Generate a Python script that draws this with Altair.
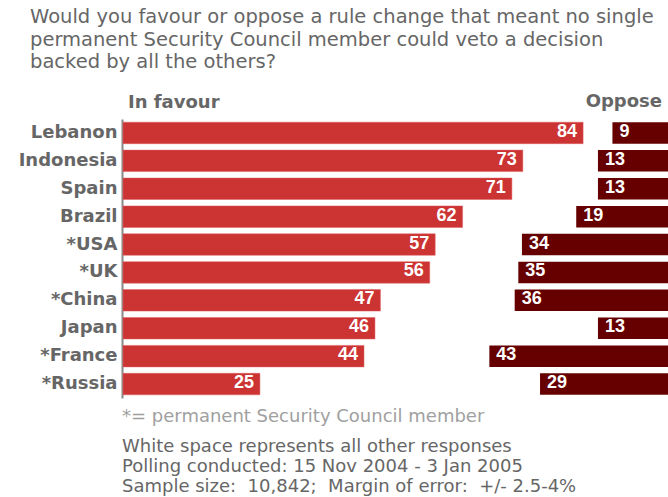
import altair as alt
import pandas as pd

countries = ["Lebanon", "Indonesia", "Spain", "Brazil", "*USA", "*UK", "*China", "Japan", "*France", "*Russia"]
favour = [84, 73, 71, 62, 57, 56, 47, 46, 44, 25]
oppose = [9, 13, 13, 19, 34, 35, 36, 13, 43, 29]

title_lines = [
    "Would you favour or oppose a rule change that meant no single",
    "permanent Security Council member could veto a decision",
    "backed by all the others?",
]
note_star = "*= permanent Security Council member"
note_lines = [
    "White space represents all other responses",
    "Polling conducted: 15 Nov 2004 - 3 Jan 2005",
    "Sample size: \u00a010,842; \u00a0Margin of error: \u00a0+/- 2.5-4%",
]

df = pd.DataFrame({"country": countries, "favour": favour, "oppose": oppose})

W, H = 545, 279
RED = "#cc3333"
DARK = "#660000"
GREY = "#666666"
FONT = "DejaVu Sans"
NUMFONT = "Liberation Sans"

# oppose bars are drawn on their own (reversed) scale, anchored at the right edge
OPP_DOMAIN = [-6.35, 144.2]

y_enc = alt.Y(
    "country:N",
    sort=countries,
    scale=alt.Scale(paddingInner=0.23, paddingOuter=0.115),
    axis=alt.Axis(
        title=None, ticks=False, labelFont=FONT, labelFontWeight="bold",
        labelFontSize=18, labelColor=GREY, labelPadding=5,
        domainColor="#888888", domainWidth=2, offset=1,
    ),
)

base = alt.Chart(df)

xf = alt.X("favour:Q", scale=alt.Scale(domain=[0, 99.5], nice=False, zero=True), axis=None)
fav_bars = base.mark_bar(color=RED, stroke="#e06060", strokeWidth=0.5).encode(x=xf, y=y_enc)
fav_text = base.mark_text(
    align="right", baseline="middle", dx=-6, dy=-1, color="white",
    font=NUMFONT, fontWeight="bold", fontSize=18,
).encode(x=xf, y=y_enc, text="favour:Q")
fav_layer = alt.layer(fav_bars, fav_text)

xo = alt.X("oppose:Q", scale=alt.Scale(domain=OPP_DOMAIN, reverse=True, nice=False, zero=False), axis=None)
opp_bars = base.mark_bar(color=DARK).encode(x=xo, x2=alt.datum(OPP_DOMAIN[0]), y=y_enc)
opp_text = base.mark_text(
    align="left", baseline="middle", dx=7, dy=-1, color="white",
    font=NUMFONT, fontWeight="bold", fontSize=18,
).encode(x=xo, y=y_enc, text="oppose:Q")
opp_layer = alt.layer(opp_bars, opp_text)

one = pd.DataFrame({"a": [0]})
title_txt = alt.Chart(one).mark_text(
    text=title_lines, align="left", baseline="alphabetic", font=FONT,
    fontSize=19.5, lineHeight=22.5, color=GREY,
).encode(x=alt.value(-93), y=alt.value(-96))
head_fav = alt.Chart(one).mark_text(
    text="In favour", align="left", baseline="alphabetic", font=FONT,
    fontWeight="bold", fontSize=18, color=GREY,
).encode(x=alt.value(5), y=alt.value(-11))
head_opp = alt.Chart(one).mark_text(
    text="Oppose", align="right", baseline="alphabetic", font=FONT,
    fontWeight="bold", fontSize=18, color=GREY,
).encode(x=alt.value(539), y=alt.value(-12))
star_txt = alt.Chart(one).mark_text(
    text=note_star, align="left", baseline="alphabetic", font=FONT,
    fontSize=18, color="#a0a0a0",
).encode(x=alt.value(-1), y=alt.value(303))
notes_txt = alt.Chart(one).mark_text(
    text=note_lines, align="left", baseline="alphabetic", font=FONT,
    fontSize=18, lineHeight=20, color=GREY,
).encode(x=alt.value(-1), y=alt.value(333))

chart = alt.layer(
    fav_layer, opp_layer, title_txt, head_fav, head_opp, star_txt, notes_txt
).resolve_scale(x="independent").properties(
    width=W, height=H,
    autosize=alt.AutoSizeParams(type="none"),
    padding={"left": 123, "top": 119, "right": 0, "bottom": 99},
    background="white",
).configure_view(stroke=None)

chart.save("out.html", embed_options={"renderer": "svg", "actions": False})
